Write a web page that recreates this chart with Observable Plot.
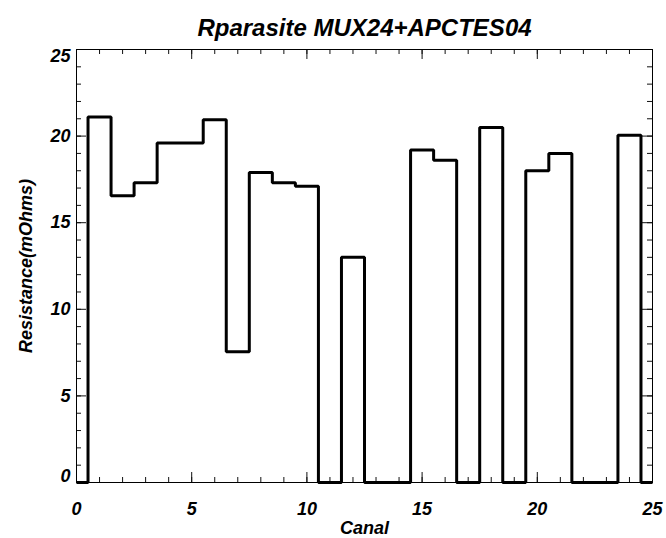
<!DOCTYPE html>
<html>
<head>
<meta charset="utf-8">
<script src="https://cdn.jsdelivr.net/npm/d3@7"></script>
<script src="https://cdn.jsdelivr.net/npm/@observablehq/plot@0.6"></script>
<style>
  html, body { margin: 0; padding: 0; background: #fff; }
  #chart svg { display: block; }
</style>
</head>
<body>
<div id="chart"></div>
<script>
const title = "Rparasite MUX24+APCTES04";
const xLabel = "Canal";
const yLabel = "Resistance(mOhms)";

const canal = [0, 1, 2, 3, 4, 5, 6, 7, 8, 9, 10, 11, 12, 13, 14, 15, 16, 17, 18, 19, 20, 21, 22, 23, 24, 25];
const resistance = [0, 21.1, 16.55, 17.3, 19.6, 19.6, 20.95, 7.55, 17.9, 17.3, 17.1, 0, 13.0, 0, 0, 19.2, 18.6, 0, 20.5, 0, 18.0, 19.0, 0, 0, 20.05, 0];

const xMajorTicks = [0, 5, 10, 15, 20, 25];
const yMajorTicks = [0, 5, 10, 15, 20, 25];
const xMinorTicks = [0, 1, 2, 3, 4, 5, 6, 7, 8, 9, 10, 11, 12, 13, 14, 15, 16, 17, 18, 19, 20, 21, 22, 23, 24, 25];
const yMinorTicks = [0, 1, 2, 3, 4, 5, 6, 7, 8, 9, 10, 11, 12, 13, 14, 15, 16, 17, 18, 19, 20, 21, 22, 23, 24, 25];

const data = canal.map((c, i) => ({canal: c, r: resistance[i]}));

const W = 666, H = 538;
const mL = 76, mR = 14, mT = 49, mB = 56;
const innerW = W - mL - mR, innerH = H - mT - mB;
const majorLen = 10, minorLen = 5;
const font = {fontFamily: "'Liberation Sans', Arial, Helvetica, sans-serif", fontWeight: "bold", fontStyle: "italic", fill: "black"};
const tickStyle = {stroke: "#111", strokeWidth: 1};

const chart = Plot.plot({
  width: W,
  height: H,
  marginLeft: mL,
  marginRight: mR,
  marginTop: mT,
  marginBottom: mB,
  x: {domain: [0, 25], axis: null},
  y: {domain: [0, 25], axis: null},
  marks: [
    // minor ticks (all four sides, inward)
    Plot.ruleX(xMinorTicks, {x: d => d, insetTop: innerH - minorLen, ...tickStyle}),
    Plot.ruleX(xMinorTicks, {x: d => d, insetBottom: innerH - minorLen, ...tickStyle}),
    Plot.ruleY(yMinorTicks, {y: d => d, insetRight: innerW - minorLen, ...tickStyle}),
    Plot.ruleY(yMinorTicks, {y: d => d, insetLeft: innerW - minorLen, ...tickStyle}),
    // major ticks
    Plot.ruleX(xMajorTicks, {x: d => d, insetTop: innerH - majorLen, ...tickStyle}),
    Plot.ruleX(xMajorTicks, {x: d => d, insetBottom: innerH - majorLen, ...tickStyle}),
    Plot.ruleY(yMajorTicks, {y: d => d, insetRight: innerW - majorLen, ...tickStyle}),
    Plot.ruleY(yMajorTicks, {y: d => d, insetLeft: innerW - majorLen, ...tickStyle}),
    Plot.frame({stroke: "black", strokeWidth: 1}),
    // data step line
    Plot.line(data, {x: "canal", y: "r", curve: "step", stroke: "black", strokeWidth: 3, strokeLinejoin: "miter", strokeLinecap: "butt"}),
    // y tick labels
    Plot.text(yMajorTicks, {filter: d => d > 0 && d < 25, y: d => d, text: d => String(d), frameAnchor: "left", textAnchor: "end", dx: -6, fontSize: 18, ...font}),
    Plot.text(yMajorTicks, {filter: d => d === 0, y: d => d, text: d => String(d), frameAnchor: "left", textAnchor: "end", dx: -6, dy: -6.5, fontSize: 18, ...font}),
    Plot.text(yMajorTicks, {filter: d => d === 25, y: d => d, text: d => String(d), frameAnchor: "left", textAnchor: "end", dx: -6, dy: 6.5, fontSize: 18, ...font}),
    // x tick labels
    Plot.text(xMajorTicks, {x: d => d, text: d => String(d), frameAnchor: "bottom", lineAnchor: "top", dy: 20, fontSize: 18, ...font}),
    // axis labels
    Plot.text([xLabel], {text: d => d, frameAnchor: "bottom", textAnchor: "middle", lineAnchor: "top", dy: 39, fontSize: 18, ...font}),
    Plot.text([yLabel], {text: d => d, frameAnchor: "left", textAnchor: "middle", lineAnchor: "bottom", rotate: -90, dx: -45, fontSize: 18, ...font}),
    // title
    Plot.text([title], {text: d => d, frameAnchor: "top", textAnchor: "middle", lineAnchor: "bottom", dy: -14, fontSize: 24, ...font})
  ]
});

document.getElementById("chart").appendChild(chart);
</script>
</body>
</html>
